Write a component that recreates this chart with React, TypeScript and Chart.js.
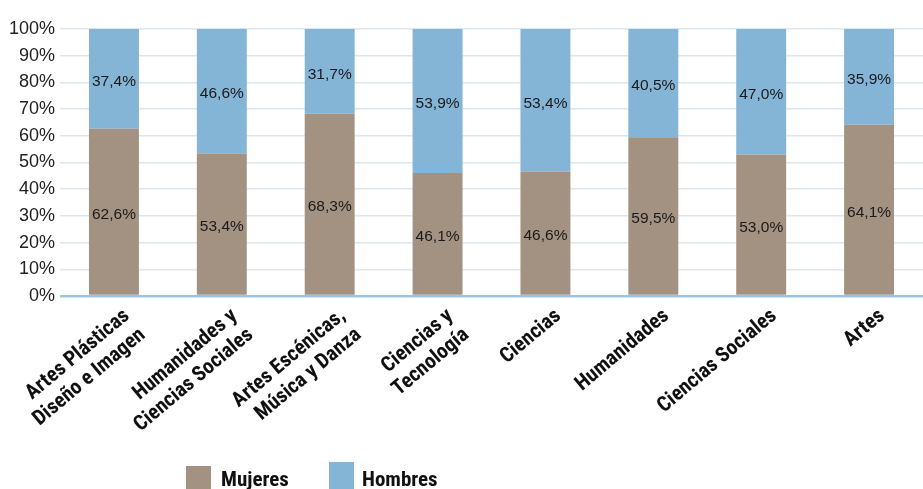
import { useEffect, useRef } from "react"
import { Chart, registerables, type ChartConfiguration, type Plugin } from "chart.js"

Chart.register(...registerables)

const categories: string[][] = [
  ["Artes Plásticas", "Diseño e Imagen"],
  ["Humanidades y", "Ciencias Sociales"],
  ["Artes Escénicas,", "Música y Danza"],
  ["Ciencias y", "Tecnología"],
  ["Ciencias"],
  ["Humanidades"],
  ["Ciencias Sociales"],
  ["Artes"],
]
const mujeres = [62.6, 53.4, 68.3, 46.1, 46.6, 59.5, 53.0, 64.1]
const hombres = [37.4, 46.6, 31.7, 53.9, 53.4, 40.5, 47.0, 35.9]
const seriesNames = ["Mujeres", "Hombres"]
const colors = ["#a39282", "#84b5d6"]

const condensed = "'Roboto Condensed', 'DejaVu Sans Condensed', sans-serif"
const regular = "'Liberation Sans', Arial, sans-serif"

// value labels in the middle of every segment
const segmentLabels: Plugin<"bar"> = {
  id: "segmentLabels",
  afterDatasetsDraw(chart) {
    const ctx = chart.ctx
    ctx.save()
    ctx.font = `15.5px ${regular}`
    ctx.fillStyle = "#1a1a1a"
    ctx.textAlign = "center"
    ctx.textBaseline = "middle"
    chart.data.datasets.forEach((ds, di) => {
      const meta = chart.getDatasetMeta(di)
      meta.data.forEach((el: any, i) => {
        const v = ds.data[i] as number
        const yMid = (el.y + el.base) / 2 + 3
        ctx.fillText(v.toFixed(1).replace(".", ",") + "%", el.x, yMid)
      })
    })
    ctx.restore()
  },
}

export default function App() {
  const canvasRef = useRef<HTMLCanvasElement>(null)
  const chartRef = useRef<Chart | null>(null)

  useEffect(() => {
    if (!canvasRef.current) return
    const config: ChartConfiguration<"bar"> = {
      type: "bar",
      data: {
        labels: categories as any,
        datasets: [
          { label: seriesNames[0], data: mujeres, backgroundColor: colors[0] },
          { label: seriesNames[1], data: hombres, backgroundColor: colors[1] },
        ],
      },
      options: {
        responsive: false,
        animation: false,
        barPercentage: 0.463,
        categoryPercentage: 1,
        layout: { padding: { top: 29, right: 0, left: 0, bottom: 0 } },
        plugins: {
          legend: { display: false },
          tooltip: { enabled: false },
        },
        scales: {
          x: {
            stacked: true,
            grid: { display: false },
            border: { display: false },
            ticks: {
              maxRotation: 40,
              minRotation: 40,
              autoSkip: false,
              padding: 0,
              labelOffset: 13,
              color: "#111",
              font: { family: condensed, size: 21, weight: "bold", lineHeight: 1.18 },
            },
            afterFit: (scale: any) => {
              scale.height = 193
              scale.paddingLeft = 0
              scale.paddingRight = 0
            },
          },
          y: {
            stacked: true,
            min: 0,
            max: 100,
            border: { display: false },
            grid: {
              drawTicks: false,
              color: (c: any) => (c.tick && c.tick.value === 0 ? "#9dc3df" : "#dde7f0"),
              lineWidth: (c: any) => (c.tick && c.tick.value === 0 ? 2.5 : 1.5),
            },
            ticks: {
              stepSize: 10,
              padding: 5,
              color: "#222",
              font: { family: regular, size: 18 },
              callback: (v) => v + "%",
            },
            afterFit: (scale: any) => {
              scale.width = 60
            },
          },
        },
      },
      plugins: [segmentLabels],
    }
    chartRef.current = new Chart(canvasRef.current, config)
    return () => {
      chartRef.current?.destroy()
      chartRef.current = null
    }
  }, [])

  const legendText: React.CSSProperties = {
    position: "absolute",
    top: 469,
    fontFamily: condensed,
    fontWeight: "bold",
    fontSize: 21,
    lineHeight: "21px",
    color: "#111",
  }

  return (
    <div style={{ position: "fixed", left: 0, top: 0, width: 923, height: 489, overflow: "hidden", background: "#fff" }}>
      <canvas ref={canvasRef} width={923} height={489} style={{ position: "absolute", left: 0, top: 0 }} />
      <div style={{ position: "absolute", left: 186, top: 466, width: 25, height: 25, background: colors[0] }} />
      <span style={{ ...legendText, left: 221 }}>{seriesNames[0]}</span>
      <div style={{ position: "absolute", left: 329, top: 462, width: 25, height: 27, background: colors[1] }} />
      <span style={{ ...legendText, left: 362 }}>{seriesNames[1]}</span>
    </div>
  )
}
